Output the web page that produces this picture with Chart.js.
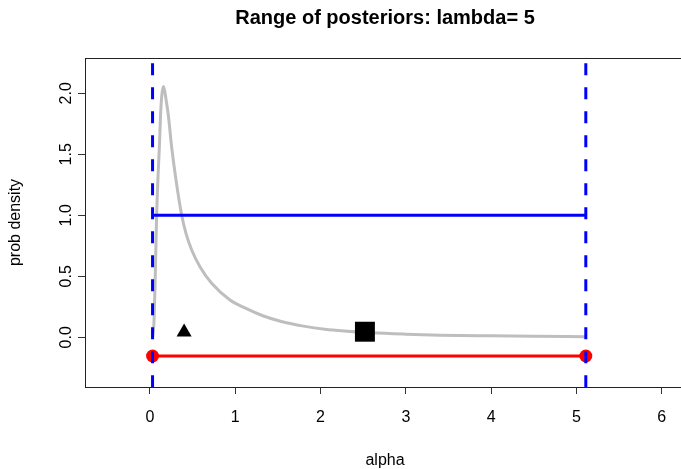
<!DOCTYPE html>
<html lang="en">
<head>
<meta charset="UTF-8" />
<title>Range of posteriors</title>
<script src="https://cdn.jsdelivr.net/npm/chart.js"></script>
<style>
  html, body { margin: 0; padding: 0; overflow: hidden; background: #fff; }
  #wrap { width: 700px; height: 469px; }
</style>
</head>
<body>
<div id="wrap"><canvas id="chart" width="700" height="469"></canvas></div>
<script>
// posterior density curve
const curveAlpha = [0.03, 0.045, 0.06, 0.078, 0.095, 0.11, 0.125, 0.137, 0.156, 0.172, 0.188, 0.215, 0.254, 0.305, 0.372, 0.422, 0.489, 0.586, 0.723, 0.938, 1.1, 1.33, 1.55, 1.8, 2.05, 2.31, 2.6, 3.0, 3.4, 4.0, 4.5, 5.11];
const curveDens  = [0.0, 0.1, 0.45, 1.0, 1.33, 1.56, 1.84, 1.97, 2.055, 2.02, 1.95, 1.82, 1.56, 1.29, 1.0, 0.852, 0.716, 0.579, 0.443, 0.306, 0.245, 0.175, 0.128, 0.092, 0.066, 0.05, 0.037, 0.026, 0.018, 0.012, 0.008, 0.005];

// range bounds
const lowerAlpha = 0.03;
const upperAlpha = 5.11;
const flatLevel = 1.0;
const rangeLevel = -0.153;

// markers
const triangleAt = { x: 0.4, y: 0.043 };
const squareAt = { x: 2.52, y: 0.046 };

// axes
const xTicks = [0, 1, 2, 3, 4, 5, 6];
const yTicks = [0, 0.5, 1, 1.5, 2];
const yTickLabels = ["0.0", "0.5", "1.0", "1.5", "2.0"];

const FONT = "'Liberation Sans', Arial, Helvetica, sans-serif";

const rText = {
  id: "rText",
  afterDraw(chart) {
    const ctx = chart.ctx;
    const a = chart.chartArea;
    const ys = chart.scales.y;
    ctx.save();
    // box
    ctx.strokeStyle = "#222";
    ctx.lineWidth = 1;
    ctx.strokeRect(Math.round(a.left) + 0.5, Math.round(a.top) + 0.5, Math.round(a.right - a.left), Math.round(a.bottom - a.top));
    ctx.fillStyle = "#000";
    // title
    ctx.font = "bold 20px " + FONT;
    ctx.textAlign = "center";
    ctx.textBaseline = "middle";
    ctx.fillText("Range of posteriors: lambda= 5", 385, 18);
    // x title
    ctx.font = "16px " + FONT;
    ctx.fillText("alpha", 385, 461);
    // y title
    ctx.save();
    ctx.translate(16, (a.top + a.bottom) / 2);
    ctx.rotate(-Math.PI / 2);
    ctx.fillText("prob density", 0, 0);
    ctx.restore();
    // y tick labels, rotated as in R
    yTicks.forEach((v, i) => {
      ctx.save();
      ctx.translate(67, ys.getPixelForValue(v));
      ctx.rotate(-Math.PI / 2);
      ctx.fillText(yTickLabels[i], 0, 0);
      ctx.restore();
    });
    ctx.restore();
  }
};

new Chart(document.getElementById("chart"), {
  type: "scatter",
  data: {
    datasets: [
      {
        type: "line",
        data: curveAlpha.map((x, i) => ({ x, y: curveDens[i] })),
        borderColor: "#bebebe",
        borderWidth: 3,
        pointRadius: 0,
        cubicInterpolationMode: "monotone",
        order: 5
      },
      {
        type: "line",
        data: [{ x: lowerAlpha, y: flatLevel }, { x: upperAlpha, y: flatLevel }],
        borderColor: "#0000ff",
        borderWidth: 3,
        pointRadius: 0,
        order: 4
      },
      {
        type: "line",
        data: [{ x: lowerAlpha, y: rangeLevel }, { x: upperAlpha, y: rangeLevel }],
        borderColor: "#ff0000",
        borderWidth: 3,
        pointRadius: 6.5,
        pointBackgroundColor: "#ff0000",
        pointBorderWidth: 0,
        order: 3
      },
      {
        data: [triangleAt],
        pointStyle: "triangle",
        pointRadius: 8.7,
        backgroundColor: "#000",
        borderWidth: 0,
        order: 2
      },
      {
        data: [squareAt],
        pointStyle: "rect",
        pointRadius: 14.1,
        backgroundColor: "#000",
        borderWidth: 0,
        order: 2
      },
      {
        type: "line",
        data: [{ x: lowerAlpha, y: -1 }, { x: lowerAlpha, y: 3 }],
        borderColor: "#0000ff",
        borderWidth: 3,
        borderDash: [12, 12],
        pointRadius: 0,
        order: 1
      },
      {
        type: "line",
        data: [{ x: upperAlpha, y: -1 }, { x: upperAlpha, y: 3 }],
        borderColor: "#0000ff",
        borderWidth: 3,
        borderDash: [12, 12],
        pointRadius: 0,
        order: 1
      }
    ]
  },
  options: {
    responsive: false,
    animation: false,
    layout: { padding: { top: 58, right: 15, left: 0, bottom: 0 } },
    plugins: { legend: { display: false }, tooltip: { enabled: false }, title: { display: false } },
    scales: {
      x: {
        type: "linear",
        min: -0.762,
        max: 6.273,
        afterBuildTicks: (s) => { s.ticks = xTicks.map(v => ({ value: v })); },
        afterFit: (s) => { s.height = 82; },
        border: { display: false },
        grid: { drawOnChartArea: false, drawTicks: true, tickLength: 7, color: "#333" },
        ticks: { color: "#000", font: { family: FONT, size: 16 }, padding: 14, maxRotation: 0 }
      },
      y: {
        type: "linear",
        min: -0.407,
        max: 2.289,
        afterBuildTicks: (s) => { s.ticks = yTicks.map(v => ({ value: v })); },
        afterFit: (s) => { s.width = 85; },
        border: { display: false },
        grid: { drawOnChartArea: false, drawTicks: true, tickLength: 7, color: "#333" },
        ticks: { display: false }
      }
    }
  },
  plugins: [rText]
});
</script>
</body>
</html>
